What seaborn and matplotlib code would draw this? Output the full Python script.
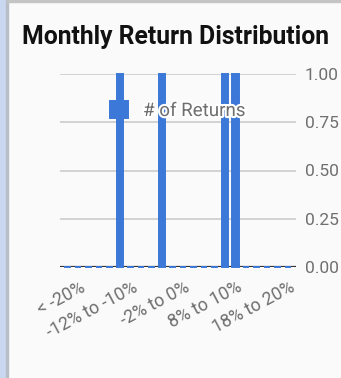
import matplotlib
matplotlib.use("Agg")
import matplotlib.pyplot as plt
import matplotlib.patheffects as pe
from matplotlib.patches import Rectangle
from matplotlib.transforms import ScaledTranslation
import seaborn as sns
import pandas as pd

# Return buckets (2% wide) and how many months fell in each
buckets = ["< -20%", "-20% to -18%", "-18% to -16%", "-16% to -14%", "-14% to -12%",
           "-12% to -10%", "-10% to -8%", "-8% to -6%", "-6% to -4%", "-4% to -2%",
           "-2% to 0%", "0% to 2%", "2% to 4%", "4% to 6%", "6% to 8%",
           "8% to 10%", "10% to 12%", "12% to 14%", "14% to 16%", "16% to 18%",
           "18% to 20%", "> 20%"]
num_returns = [0, 0, 0, 0, 0, 1, 0, 0, 0, 1, 0, 0, 0, 0, 0, 1, 1, 0, 0, 0, 0, 0]
shown_labels = ["< -20%", "-12% to -10%", "-2% to 0%", "8% to 10%", "18% to 20%"]
yticks = [0.0, 0.25, 0.5, 0.75, 1.0]

BG = "#fafafa"
BLUE = "#3c78d8"
GRAY_TXT = "#6f6f6f"

sns.set_theme(style="white")
plt.rcParams["font.family"] = ["Roboto", "DejaVu Sans"]

df = pd.DataFrame({"bucket": buckets, "count": num_returns})

W, H = 341, 378
fig = plt.figure(figsize=(W / 100, H / 100), dpi=100, facecolor=BG)
ax = fig.add_axes([60 / W, 1 - 267 / H, 236 / W, (267 - 74) / H], facecolor=BG)

sns.barplot(data=df, x="bucket", y="count", color=BLUE, saturation=1,
            width=0.62, ax=ax, label="# of Returns",
            edgecolor=BLUE, linewidth=1.4, zorder=3)

ax.set_xlim(-0.7, 21.78)
ax.set_ylim(0, 1)
for b in ax.patches:
    b.set_clip_on(False)

# horizontal gridlines and dark baseline
for v in yticks[1:]:
    ax.axhline(v, color="#cccccc", lw=1.2, zorder=1)
ax.axhline(0, color="#333333", lw=1.6, zorder=2)

for s in ax.spines.values():
    s.set_visible(False)

ax.yaxis.tick_right()
ax.set_yticks(yticks)
ax.set_yticklabels([f"{v:.2f}" for v in yticks])
ax.tick_params(axis="y", length=0, pad=6.5, labelsize=12.5, labelcolor=GRAY_TXT)

pos = [buckets.index(l) for l in shown_labels]
ax.set_xticks(pos)
ax.set_xticklabels(shown_labels, rotation=28, ha="right", va="top",
                   rotation_mode="anchor", fontsize=12.8, color=GRAY_TXT)
ax.tick_params(axis="x", length=0, pad=8)
shift = ScaledTranslation(12 / 100, 0, fig.dpi_scale_trans)
for lab in ax.get_xticklabels():
    lab.set_fontsize(12.8)
    lab.set_transform(lab.get_transform() + shift)

ax.set_xlabel("")
ax.set_ylabel("")

leg = ax.legend(loc="upper center", bbox_to_anchor=(0.5, 0.945), frameon=False,
                handlelength=0.95, handleheight=0.95, handletextpad=0.8,
                fontsize=13.5, labelcolor=GRAY_TXT)
for t in leg.get_texts():
    t.set_path_effects([pe.withStroke(linewidth=3, foreground="white")])
leg.set_zorder(5)

fig.text(22 / W, 1 - 44 / H, "Monthly Return Distribution", fontsize=17.8,
         fontweight="bold", color="#111111", va="baseline", ha="left")

# page frame: side strip and top rule
fig.patches.append(Rectangle((0, 0), 6 / W, 1, transform=fig.transFigure,
                             color="#c9d8f0", zorder=0))
fig.patches.append(Rectangle((6 / W, 0), 1.5 / W, 1, transform=fig.transFigure,
                             color="#b8bec8", zorder=0))
fig.patches.append(Rectangle((7 / W, 1 - 2 / H), 1, 2 / H, transform=fig.transFigure,
                             color="#c4c4c4", zorder=0))

fig.savefig("out.png", dpi=100, facecolor=BG)
